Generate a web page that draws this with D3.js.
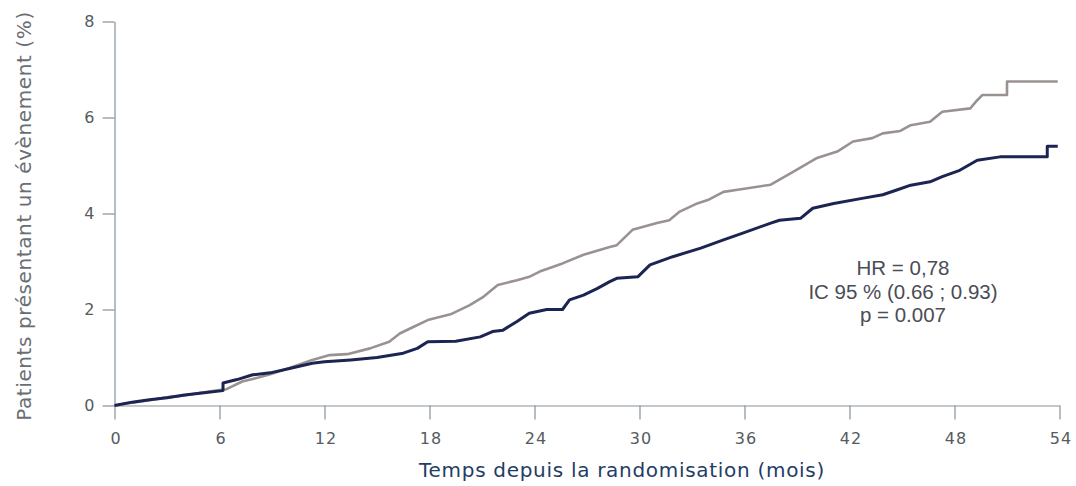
<!DOCTYPE html>
<html>
<head>
<meta charset="utf-8">
<script src="https://cdn.jsdelivr.net/npm/d3@7"></script>
<style>
  html, body { margin: 0; padding: 0; background: #ffffff; }
  svg { display: block; }
</style>
</head>
<body>
<svg id="chart" width="1076" height="486"></svg>
<script>
// Cumulative incidence curves (Kaplan-Meier style), two groups
const xTicks = [0, 6, 12, 18, 24, 30, 36, 42, 48, 54];
const yTicks = [0, 2, 4, 6, 8];

// Treated group (dark line): month, percent of patients with an event
const treatedMonths = [0, 1, 2, 3, 4, 5, 6.2, 6.2, 7.0, 7.9, 8.9, 10, 11.3, 12, 13.5, 15, 16.5, 17.3, 17.9, 19.5,
  20.9, 21.6, 22.2, 23, 23.7, 24.7, 25.6, 26, 26.8, 27.6, 28.3, 28.7, 29.9, 30.6, 31.9, 33.5, 34.8, 35.9,
  37.5, 38, 39.2, 39.9, 41.1, 42.8, 43.9, 44.7, 45.5, 46.6, 47.3, 48.3, 49.3, 50.6, 53.3, 53.3, 53.9];
const treatedValues = [0, 0.07, 0.12, 0.16, 0.22, 0.26, 0.31, 0.47, 0.54, 0.64, 0.68, 0.77, 0.88, 0.91, 0.95, 1.0, 1.09, 1.19, 1.33, 1.34,
  1.43, 1.54, 1.57, 1.75, 1.92, 2.0, 2.0, 2.2, 2.3, 2.44, 2.58, 2.65, 2.68, 2.93, 3.1, 3.28, 3.45, 3.59,
  3.8, 3.86, 3.9, 4.11, 4.21, 4.32, 4.39, 4.49, 4.59, 4.66, 4.77, 4.9, 5.11, 5.18, 5.18, 5.4, 5.4];

// Control group (grey line)
const controlMonths = [0, 1, 2, 3, 4, 5, 6, 6.4, 7.3, 7.9, 8.9, 10, 11.3, 12.3, 13.3, 14.6, 15.7, 16.3, 17.1, 17.9,
  19.2, 20.3, 21.1, 21.9, 23, 23.7, 24.3, 25.6, 26.8, 28.3, 28.7, 29.6, 31, 31.7, 32.3, 33.3, 33.9, 34.8,
  35.7, 37.5, 38.8, 40.1, 41.3, 42.2, 43.3, 43.9, 44.9, 45.5, 46.6, 47.3, 48.9, 49.3, 49.6, 51, 51, 53.9];
const controlValues = [0, 0.06, 0.11, 0.17, 0.21, 0.27, 0.32, 0.34, 0.5, 0.55, 0.65, 0.78, 0.95, 1.05, 1.07, 1.19, 1.33, 1.5, 1.64, 1.78,
  1.9, 2.09, 2.27, 2.51, 2.61, 2.68, 2.79, 2.96, 3.14, 3.3, 3.34, 3.66, 3.8, 3.86, 4.04, 4.21, 4.28, 4.45,
  4.5, 4.6, 4.87, 5.15, 5.29, 5.5, 5.57, 5.67, 5.72, 5.84, 5.91, 6.12, 6.19, 6.36, 6.47, 6.47, 6.75, 6.75];

const statLines = ["HR = 0,78", "IC 95 % (0.66 ; 0.93)", "p = 0.007"];
const xTitle = "Temps depuis la randomisation (mois)";
const yTitle = "Patients présentant un évènement (%)";

const svg = d3.select("#chart");
const x = d3.scaleLinear().domain([0, 54]).range([114.5, 1059.5]);
const y = d3.scaleLinear().domain([0, 8]).range([405.5, 21.5]);

const axisColor = "#86929a";
const tickTextColor = "#555b60";

// Y axis
const gy = svg.append("g")
  .attr("transform", `translate(${x(0)},0)`)
  .call(d3.axisLeft(y).tickValues(yTicks).tickSize(12).tickSizeOuter(0).tickFormat(d3.format("d")).tickPadding(7));
// X axis
const gx = svg.append("g")
  .attr("transform", `translate(0,${y(0)})`)
  .call(d3.axisBottom(x).tickValues(xTicks).tickSize(14).tickSizeOuter(0).tickFormat(d3.format("d")).tickPadding(13));

[gx, gy].forEach(g => {
  g.select(".domain").attr("stroke", axisColor).attr("stroke-width", 1.2);
  g.selectAll(".tick line").attr("stroke", axisColor).attr("stroke-width", 1.2);
  g.selectAll(".tick text")
    .attr("fill", tickTextColor)
    .style("font-family", "'DejaVu Sans', Verdana, sans-serif")
    .style("font-size", "16px")
    .style("letter-spacing", "1px");
});
gx.selectAll(".tick text").attr("dx", "1px");

// Curves
const line = d3.line().x(d => x(d[0])).y(d => y(d[1])).curve(d3.curveLinear);
const control = controlMonths.map((m, i) => [m, controlValues[i]]);
const treated = treatedMonths.map((m, i) => [m, treatedValues[i]]);

svg.append("path").datum(control)
  .attr("d", line).attr("fill", "none")
  .attr("stroke", "#9a9290").attr("stroke-width", 2.6)
  .attr("stroke-linejoin", "round");
svg.append("path").datum(treated)
  .attr("d", line).attr("fill", "none")
  .attr("stroke", "#1c2452").attr("stroke-width", 3)
  .attr("stroke-linejoin", "round");

// Hazard ratio annotation
const stat = svg.append("text")
  .attr("text-anchor", "middle")
  .attr("fill", "#4a4d55")
  .style("font-family", "'Liberation Sans', Arial, sans-serif")
  .style("font-size", "20.5px");
statLines.forEach((t, i) => {
  stat.append("tspan").attr("x", 903).attr("y", 275 + i * 23.5).text(t);
});

// Axis titles
svg.append("text")
  .attr("x", 622).attr("y", 477)
  .attr("text-anchor", "middle")
  .attr("fill", "#1f3d66")
  .style("font-family", "'DejaVu Sans', Verdana, sans-serif")
  .style("font-size", "20px")
  .style("letter-spacing", "0.7px")
  .text(xTitle);

svg.append("text")
  .attr("transform", "translate(31,216) rotate(-90)")
  .attr("text-anchor", "middle")
  .attr("fill", "#6a6e72")
  .style("font-family", "'DejaVu Sans', Verdana, sans-serif")
  .style("font-size", "20px")
  .style("letter-spacing", "0.6px")
  .text(yTitle);
</script>
</body>
</html>
